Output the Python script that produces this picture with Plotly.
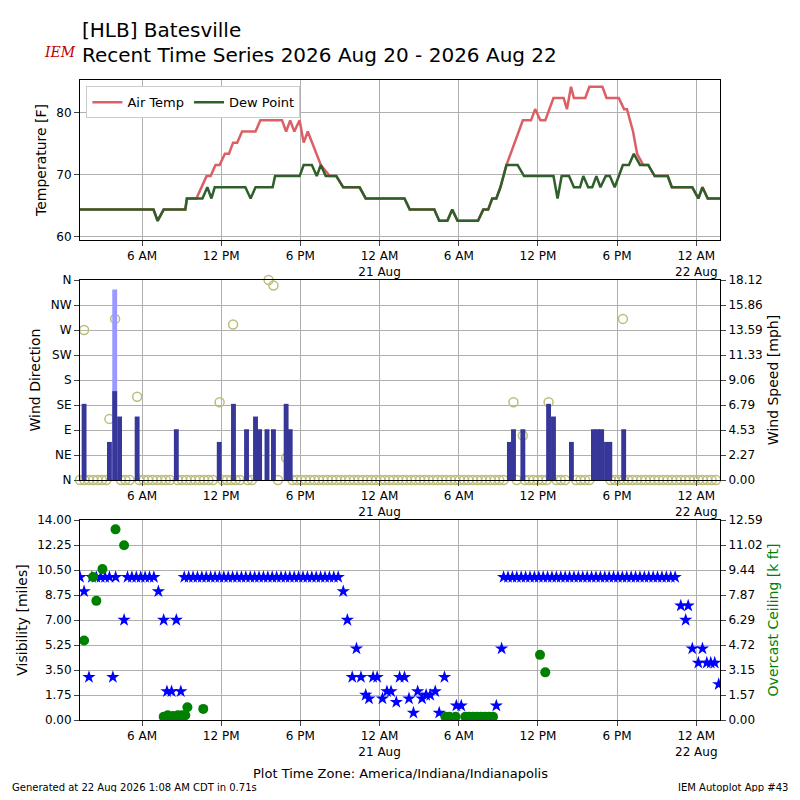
import numpy as np
import plotly.graph_objects as go

# hours since 2026-08-20 00:00 local
dew_h = [1.3, 6.87, 7.18, 7.64, 9.28, 9.4, 10.58, 10.95, 11.26, 11.51, 13.83, 14.23, 14.6, 15.9,
         16.08, 17.94, 18.25, 18.87, 19.24, 19.55, 19.92, 20.72, 21.25, 22.49, 22.95, 25.89, 26.29,
         28.15, 28.52, 29.14, 29.51, 29.91, 31.46, 31.86, 32.23, 32.54, 32.85, 33.16, 33.62, 34.46,
         34.95, 37.18, 37.49, 37.8, 38.36, 38.73, 39.19, 39.44, 39.81, 40.12, 40.43, 40.74, 41.14,
         41.45, 41.82, 42.44, 42.9, 43.27, 43.74, 44.36, 44.85, 45.84, 46.15, 47.7, 48.16, 48.47,
         48.87, 49.8]
dew_v = [64.4, 64.4, 62.6, 64.4, 64.4, 66.2, 66.2, 68, 66.2, 68, 68, 66.2, 68, 68,
         69.8, 69.8, 71.6, 71.6, 69.8, 71.6, 69.8, 69.8, 68, 68, 66.2, 66.2, 64.4,
         64.4, 62.6, 62.6, 64.4, 62.6, 62.6, 64.4, 64.4, 66.2, 66.2, 68, 71.6, 71.6,
         69.8, 69.8, 66.2, 69.8, 69.8, 68, 68, 69.8, 68, 68, 69.8, 68, 69.8,
         69.8, 68, 71.6, 71.6, 73.4, 71.6, 71.6, 69.8, 69.8, 68, 68, 66.2, 68,
         66.2, 66.2]

temp_h = [1.3, 6.87, 7.18, 7.64, 9.28, 9.4, 10.12, 10.52, 10.89, 11.2, 11.57, 11.88, 12.28, 12.59,
          12.9, 13.21, 13.58, 14.6, 14.97, 16.61, 16.92, 17.23, 17.54, 17.94, 18.25, 18.56, 19.18,
          19.55, 20.23, 20.72, 21.25, 22.49, 22.95, 25.89, 26.29, 28.15, 28.52, 29.14, 29.51, 29.91,
          31.46, 31.86, 32.23, 32.54, 32.85, 33.16, 33.62, 34.86, 35.48, 35.79, 36.19, 36.56, 37.18,
          37.95, 38.2, 38.51, 38.73, 39.59, 39.9, 40.89, 41.2, 42.13, 42.53, 42.75, 43.21, 43.52,
          43.98, 44.36, 44.85, 45.84, 46.15, 47.7, 48.16, 48.47, 48.87, 49.8]
temp_v = [64.4, 64.4, 62.6, 64.4, 64.4, 66.2, 66.2, 68, 69.8, 69.8, 71.6, 71.6, 73.4, 73.4,
          75.2, 75.2, 77, 77, 78.8, 78.8, 77, 78.8, 77, 78.8, 75.2, 77, 73.4,
          71.6, 69.8, 69.8, 68, 68, 66.2, 66.2, 64.4, 64.4, 62.6, 62.6, 64.4, 62.6,
          62.6, 64.4, 64.4, 66.2, 66.2, 68, 71.6, 78.8, 78.8, 80.6, 78.8, 78.8, 82.4,
          82.4, 80.6, 84.2, 82.4, 82.4, 84.2, 84.2, 82.4, 82.4, 80.6, 80.6, 77, 73.4,
          71.6, 71.6, 69.8, 69.8, 68, 68, 66.2, 68, 66.2, 66.2]

# wind (mph) and direction (deg)
wind_h = [1.61, 3.53, 3.93, 4.3, 5.63, 8.6, 11.85, 12.93, 13.92, 14.6, 14.91, 15.47, 15.96, 16.92,
          17.23, 33.84, 34.15, 34.86, 36.81, 37.18, 38.54, 40.21, 40.52, 40.83, 41.2, 41.45, 42.5]
wind_v = [6.9, 3.45, 8.05, 5.75, 5.75, 4.6, 3.45, 6.9, 4.6, 5.75, 4.6, 4.6, 4.6, 6.9,
          4.6, 3.45, 4.6, 4.6, 6.9, 5.75, 3.45, 4.6, 4.6, 4.6, 3.45, 3.45, 4.6]
gust_h = [3.93]
gust_v = [17.26]
dir_h = [1.61, 3.53, 3.96, 5.63, 11.88, 12.9, 15.59, 15.96, 16.92, 34.15, 34.86, 36.81, 42.44]
dir_v = [270, 110, 290, 150, 140, 280, 360, 350, 40, 140, 80, 140, 290]
calm_periods = [(1.3, 3.45), (4.4, 5.3), (5.8, 8.4), (8.7, 11.6), (12.1, 13.7), (14.0, 14.4),
                (16.3, 16.6), (17.4, 33.6), (34.4, 34.7), (35.0, 36.7), (37.4, 38.4),
                (38.9, 40.1), (41.5, 49.8)]
calm_h = np.concatenate([np.arange(a, b, 1 / 3) for a, b in calm_periods])

# visibility (miles)
vis_h = [1.3, 1.61, 1.98, 3.79, 4.64, 7.24, 7.64, 7.89, 8.24, 8.6, 8.94, 21.25, 21.56, 22.25,
         21.93, 22.59, 22.95, 23.2, 23.51, 23.82, 24.22, 24.56, 24.87, 25.27, 25.52, 25.89,
         26.23, 26.57, 26.89, 27.22, 27.53, 27.84, 28.22, 28.52, 28.92, 29.82, 30.19, 32.85,
         33.25, 46.83, 47.39, 47.2, 47.7, 48.16, 48.47, 48.8, 49.1, 49.4, 49.7]
vis_v = [10, 9, 3, 3, 7, 9, 7, 2, 2, 7, 2, 9, 7, 5,
         3, 3, 1.75, 1.5, 3, 3, 1.5, 2, 2, 1.25, 3, 3,
         1.5, 0.5, 2, 1.5, 1.75, 1.75, 2, 0.5, 3, 1, 1, 1,
         5, 8, 8, 7, 5, 4, 5, 4, 4, 4, 2.5]
clear_periods = [(2.2, 3.6), (4.0, 4.3), (4.9, 7.2), (9.2, 21.1), (33.4, 46.6)]
clear_h = np.concatenate([np.arange(a, b, 1 / 3) for a, b in clear_periods])

# overcast ceiling (k ft)
ceil_h = [1.61, 2.29, 2.54, 3.0, 3.99, 4.64, 7.64, 7.95, 8.35, 8.72, 9.03, 9.28, 9.44, 10.64,
          28.99, 29.3, 29.76, 30.5, 30.8, 31.1, 31.4, 31.7, 32.0, 32.3, 32.6, 36.16, 36.56]
ceil_v = [5.0, 9.0, 7.5, 9.5, 12.0, 11.0, 0.2, 0.3, 0.25, 0.3, 0.3, 0.3, 0.8, 0.7,
          0.2, 0.2, 0.2, 0.2, 0.2, 0.2, 0.2, 0.2, 0.2, 0.2, 0.2, 4.1, 3.0]

tick_h = [6, 12, 18, 24, 30, 36, 42, 48]
tick_t = ["6 AM", "12 PM", "6 PM", "12 AM<br>21 Aug", "6 AM", "12 PM", "6 PM", "12 AM<br>22 Aug"]
dir_lbl = ["N", "NE", "E", "SE", "S", "SW", "W", "NW", "N"]

fig = go.Figure()
fig.add_trace(go.Scatter(x=temp_h, y=temp_v, mode="lines", name="Air Temp",
                         line=dict(color="#dd5f66", width=2.5), xaxis="x", yaxis="y"))
fig.add_trace(go.Scatter(x=dew_h, y=dew_v, mode="lines", name="Dew Point",
                         line=dict(color="#2f5f2a", width=2.5), xaxis="x", yaxis="y"))

fig.add_trace(go.Bar(x=gust_h, y=gust_v, width=0.37, marker_color="#9999ff", marker_line_width=0,
                     xaxis="x2", yaxis="y3", showlegend=False))
fig.add_trace(go.Bar(x=wind_h, y=wind_v, width=0.37, marker_color="#373799", marker_line_width=0,
                     xaxis="x2", yaxis="y3", showlegend=False))
fig.add_trace(go.Scatter(x=list(dir_h) + list(calm_h), y=dir_v + [0] * len(calm_h), mode="markers",
                         marker=dict(symbol="circle-open", size=9, color="#bdbd7a", line_width=1.5),
                         xaxis="x2", yaxis="y2", showlegend=False, cliponaxis=False))

fig.add_trace(go.Scatter(x=list(vis_h) + list(clear_h), y=vis_v + [10] * len(clear_h), mode="markers",
                         marker=dict(symbol="star", size=10, color="blue"),
                         xaxis="x3", yaxis="y4", showlegend=False))
fig.add_trace(go.Scatter(x=ceil_h, y=ceil_v, mode="markers",
                         marker=dict(symbol="circle", size=10, color="green"),
                         xaxis="x3", yaxis="y5", showlegend=False))

ax = dict(range=[1.3, 49.8], tickvals=tick_h, ticktext=tick_t, showgrid=True, gridcolor="#b0b0b0",
          showline=True, linecolor="black", mirror=True, ticks="outside", zeroline=False,
          automargin=False)
gy = dict(showgrid=True, gridcolor="#b0b0b0", showline=True, linecolor="black", mirror=True,
          ticks="outside", zeroline=False, automargin=False)
spd = [i * 18.12 / 8 for i in range(9)]
vis_t = [i * 1.75 for i in range(9)]
cl_t = [i * 12.59 / 8 for i in range(9)]

# page body adds an 8px margin, so the figure is 784 px and sits at (8, 8)
fig.update_layout(
    width=784, height=784, plot_bgcolor="white", paper_bgcolor="white",
    font=dict(family="DejaVu Sans", size=12, color="black"),
    margin=dict(l=72, r=72, t=72, b=72), barmode="overlay",
    xaxis=dict(ax, domain=[0, 1], anchor="y"),
    xaxis2=dict(ax, domain=[0, 1], anchor="y2"),
    xaxis3=dict(ax, domain=[0, 1], anchor="y4"),
    yaxis=dict(gy, domain=[0.75, 1], range=[59.5, 85.3], tickvals=[60, 70, 80],
               title=dict(text="Temperature [F]", standoff=6)),
    yaxis2=dict(gy, domain=[0.375, 0.6875], range=[0, 360], tickvals=list(range(0, 361, 45)),
                ticktext=dir_lbl, title=dict(text="Wind Direction", standoff=6)),
    yaxis3=dict(range=[0, 18.12], overlaying="y2", side="right", anchor="x2", showgrid=False,
                tickvals=spd, ticktext=["%.2f" % v for v in spd], ticks="outside", automargin=False,
                title=dict(text="Wind Speed [mph]", standoff=6)),
    yaxis4=dict(gy, domain=[0, 0.3125], range=[0, 14], tickvals=vis_t,
                ticktext=["%.2f" % v for v in vis_t], title=dict(text="Visibility [miles]", standoff=6)),
    yaxis5=dict(range=[0, 12.59], overlaying="y4", side="right", anchor="x3", showgrid=False,
                tickvals=cl_t, ticktext=["%.2f" % v for v in cl_t], ticks="outside", automargin=False,
                title=dict(text="Overcast Ceiling [k ft]", font=dict(color="green"), standoff=6)),
    legend=dict(x=0.01, y=0.99, xanchor="left", yanchor="top", orientation="h",
                bgcolor="white", bordercolor="#cccccc", borderwidth=1, font=dict(size=13)),
)
for txt, x, y, xa, sz in [("[HLB] Batesville", 0, 1.078, "left", 20),
                          ("Recent Time Series 2026 Aug 20 - 2026 Aug 22", 0, 1.039, "left", 20),
                          ("Plot Time Zone: America/Indiana/Indianapolis", 0.5, -0.083, "center", 13),
                          ("Generated at 22 Aug 2026 1:08 AM CDT in 0.71s", -0.11, -0.105, "left", 10),
                          ("IEM Autoplot App #43", 1.11, -0.105, "right", 10)]:
    fig.add_annotation(text=txt, x=x, y=y, xref="paper", yref="paper", showarrow=False,
                       xanchor=xa, yanchor="middle", font=dict(size=sz))
fig.add_annotation(text="<i>IEM</i>", x=-0.06, y=1.06, xref="paper", yref="paper", showarrow=False,
                   font=dict(size=14, color="#c00000", family="DejaVu Serif"))

fig.write_html("out.html")
